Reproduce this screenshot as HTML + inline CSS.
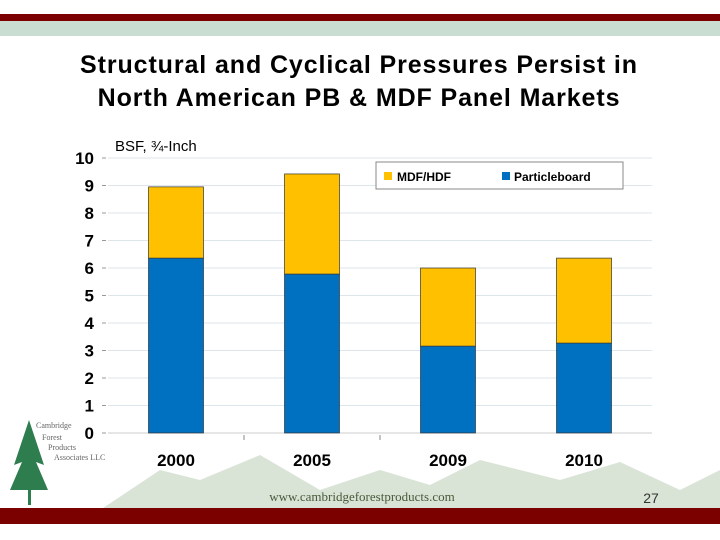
<!DOCTYPE html>
<html><head><meta charset="utf-8"><style>
body{margin:0;width:720px;height:540px;background:#fff;font-family:"Liberation Sans",sans-serif;overflow:hidden;position:relative}
</style></head><body>
<div style="position:absolute;left:0;top:14px;width:720px;height:7px;background:#7b0000"></div>
<div style="position:absolute;left:0;top:21px;width:720px;height:15px;background:#c9ddd2"></div>
<div style="position:absolute;left:0;top:49px;width:718px;text-align:center;font-size:25px;font-weight:bold;line-height:33px;color:#000;letter-spacing:0.9px">Structural and Cyclical Pressures Persist in<br>North American PB &amp; MDF Panel Markets</div>
<svg width="720" height="540" style="position:absolute;left:0;top:0">
<g fill="#c9d9c6" opacity="0.7">
<polygon points="100,510 160,470 200,480 260,455 320,490 380,470 430,485 480,460 520,470 560,480 620,462 680,490 720,470 720,508 100,508"/>
</g>
<g id="grid"></g><g id="bars"></g><g id="axes"></g>
<text x="115" y="151" font-size="15">BSF, ¾-Inch</text>
<g>
<rect x="376" y="162" width="247" height="27" fill="#fff" stroke="#888"/>
<rect x="384" y="172" width="8" height="8" fill="#ffc000"/>
<text x="397" y="181" font-size="12" font-weight="bold">MDF/HDF</text>
<rect x="502" y="172" width="8" height="8" fill="#0070c0"/>
<text x="514" y="181" font-size="12" font-weight="bold">Particleboard</text>
</g>
<g>
<rect x="28" y="430" width="3" height="75" fill="#2e7d4f"/>
<polygon points="29,420 44,465 36,462 48,490 10,490 22,462 14,465" fill="#2e7d4f"/>
<text x="36" y="428" font-size="8" fill="#666" font-family="Liberation Serif">Cambridge</text>
<text x="42" y="440" font-size="8" fill="#666" font-family="Liberation Serif">Forest</text>
<text x="48" y="450" font-size="8" fill="#666" font-family="Liberation Serif">Products</text>
<text x="54" y="460" font-size="8" fill="#666" font-family="Liberation Serif">Associates LLC</text>
</g>
<text x="362" y="501" font-size="13" text-anchor="middle" fill="#4a5a3a" font-family="Liberation Serif">www.cambridgeforestproducts.com</text>
<text x="651" y="503" font-size="14" text-anchor="middle" fill="#333">27</text>
</svg>
<div style="position:absolute;left:0;top:508px;width:720px;height:16px;background:#7b0000"></div>
<script>
const categories=["2000","2005","2009","2010"];
const particleboard=[6.36,5.78,3.16,3.27];
const mdf=[2.59,3.64,2.84,3.09];
const yTicks=[0,1,2,3,4,5,6,7,8,9,10];
const NS="http://www.w3.org/2000/svg";
const x0=108,x1=652,y0=433,y1=158,ymax=10;
const band=(x1-x0)/categories.length,bw=55;
const Y=v=>y0-(v/ymax)*(y0-y1);
const X=i=>x0+band*(i+0.5);
function mk(t,a,p){const e=document.createElementNS(NS,t);for(const k in a)e.setAttribute(k,a[k]);p.appendChild(e);return e;}
const grid=document.getElementById('grid'),bars=document.getElementById('bars'),axes=document.getElementById('axes');
yTicks.forEach(v=>{
 const g=mk('line',{x1:x0,x2:x1,y1:Y(v),y2:Y(v),stroke:v===0?'#ccc':'#dde6ea'},grid);
 
 
 const tk=mk('line',{x1:x0-6,x2:x0-2,y1:Y(v),y2:Y(v),stroke:'#999'},axes);
 
 
 const t=mk('text',{x:x0-14,y:Y(v)+6,'text-anchor':'end','font-size':17,'font-weight':'bold'},axes);
 t.textContent=v;
 
 
});
categories.forEach((c,i)=>{
 const cx=X(i);
 const b1=mk('rect',{x:cx-bw/2,y:Y(particleboard[i]),width:bw,height:Y(0)-Y(particleboard[i]),fill:'#0070c0',stroke:'#333','stroke-width':0.7},bars);
 
 
 const top=particleboard[i]+mdf[i];
 const b2=mk('rect',{x:cx-bw/2,y:Y(top),width:bw,height:Y(particleboard[i])-Y(top),fill:'#ffc000',stroke:'#333','stroke-width':0.7},bars);
 
 
 const t=mk('text',{x:cx,y:466,'text-anchor':'middle','font-size':17,'font-weight':'bold'},axes);
 t.textContent=c;
 
 
 if(i>0&&i<3){const tk=mk('line',{x1:x0+band*i,x2:x0+band*i,y1:y0+2,y2:y0+7,stroke:'#888'},axes);
 
 }
});
</script>
</body></html>
